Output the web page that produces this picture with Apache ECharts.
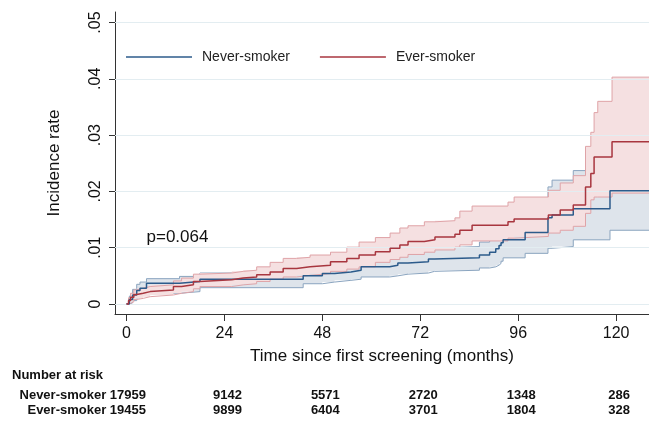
<!DOCTYPE html>
<html><head><meta charset="utf-8">
<script src="https://cdn.jsdelivr.net/npm/echarts@6/dist/echarts.min.js"></script>
<style>html,body{margin:0;padding:0;background:#fff}#c{width:649px;height:422px}</style>
</head><body><div id="c"></div>
<script>
// ---------- data ----------
const neverT   = [0, 0.7, 1.5, 2.5, 3.3, 4.9, 13, 18, 43.3, 48, 51, 55, 57.5, 64.5, 66.5, 69, 74, 75.5, 86.5, 89, 90.5, 91.3, 91.8, 92.3, 97.7, 103.3, 104.3, 109.5, 118.5, 130];
const neverEst = [0, .0008, .0016, .0024, .0028, .0037, .004, .0044, .005, .0054, .0057, .006, .0066, .0069, .0073, .0075, .008, .0082, .0087, .0092, .0098, .0104, .0109, .0114, .0127, .0153, .0158, .0169, .0201, .0201];
const neverLo  = [0, .0002, .0006, .0011, .0015, .0019, .0022, .0029, .0036, .0039, .0042, .0044, .0048, .005, .0053, .0055, .0058, .006, .0064, .0066, .0069, .0072, .0076, .0082, .009, .0099, .0102, .0114, .0131, .0131];
const neverHi  = [0, .0014, .0026, .0035, .0039, .0045, .0049, .0055, .0062, .0066, .007, .0074, .0082, .0086, .0091, .0094, .0099, .0102, .011, .0116, .0122, .0128, .0134, .014, .0168, .0208, .022, .0237, .031, .031];

const everT   = [0, 0.5, 1, 1.8, 2.5, 4.1, 5.8, 11.5, 13.5, 16.4, 18, 25.8, 28.6, 31.9, 35.2, 38.4, 41.7, 45, 50, 54, 57, 61, 64.6, 67, 69, 73, 75.6, 80.5, 81.7, 84.7, 93.5, 95, 103.4, 106.3, 109.5, 112.5, 113.8, 114.6, 115.5, 119, 130];
const everEst = [0, .0006, .0012, .0017, .0019, .0022, .0025, .0031, .0034, .004, .0043, .0046, .0048, .0052, .0057, .0063, .0066, .0069, .0075, .0081, .0087, .0093, .0099, .0105, .0111, .0114, .0119, .0124, .0131, .014, .0146, .0151, .0158, .0167, .0176, .0208, .0232, .0261, .0261, .0288, .0288];
const everLo  = [0, .0001, .0004, .0008, .001, .0013, .0016, .0019, .0022, .0027, .0031, .0034, .0036, .004, .0044, .0048, .0051, .0054, .0058, .0062, .0066, .0074, .0079, .0083, .0088, .0092, .0096, .0101, .0105, .0112, .0117, .012, .0126, .0131, .0138, .0161, .0185, .019, .019, .0197, .0197];
const everHi  = [0, .0011, .0019, .0025, .0028, .0031, .0034, .0041, .0046, .0053, .0055, .0058, .006, .0066, .0074, .0081, .0083, .0087, .0092, .0101, .011, .0118, .0126, .0135, .0139, .0146, .0148, .0153, .0165, .0174, .0181, .019, .0202, .0215, .0228, .028, .0305, .034, .036, .0403, .0403];

const xTicks = [0, 24, 48, 72, 96, 120];
const yTicks = [0, 0.01, 0.02, 0.03, 0.04, 0.05];
const yTickLabels = ['0', '.01', '.02', '.03', '.04', '.05'];

const groupNames = ['Never-smoker', 'Ever-smoker'];
const riskTimes = [24, 48, 72, 96, 120];
const neverTotal = 17959;
const everTotal = 19455;
const neverRisk = [9142, 5571, 2720, 1348, 286];
const everRisk  = [9899, 6404, 3701, 1804, 328];
const pText = 'p=0.064';

// ---------- chart ----------
const F = '"Liberation Sans", Arial, sans-serif';
const chart = echarts.init(document.getElementById('c'), null, {renderer: 'canvas'});
const pairs = (t, v) => t.map((x, i) => [x, v[i]]);

const blueLine = '#2c5b8b', redLine = '#a8363f';
const blueEdge = '#8aa4bf', redEdge = '#dfa3a7';
const blueFill = '#dee4eb', redFill = '#f5e0e1';

function band(t, lo, hi, fill, z) {
  return {
    type: 'custom', z: z, silent: true,
    data: t.map((x, i) => [x, lo[i], hi[i]]),
    encode: {x: 0, y: [1, 2]},
    renderItem: function (params, api) {
      if (params.dataIndex !== 0) return null;
      const cs = params.coordSys, xmax = cs.x + cs.width;
      const top = [], bot = [];
      for (let i = 0; i < t.length; i++) {
        const x0 = Math.min(api.coord([t[i], 0])[0], xmax);
        const x1 = i + 1 < t.length ? Math.min(api.coord([t[i + 1], 0])[0], xmax) : x0;
        const yh = api.coord([0, hi[i]])[1], yl = api.coord([0, lo[i]])[1];
        top.push([x0, yh], [x1, yh]);
        bot.push([x0, yl], [x1, yl]);
      }
      return {type: 'polygon', shape: {points: top.concat(bot.reverse())}, style: {fill: fill, stroke: null}};
    }
  };
}
const stepLine = (name, t, v, color, w, z) => ({
  name: name, type: 'line', step: 'end', symbol: 'none', z: z, silent: true, color: color,
  data: pairs(t, v), lineStyle: {color: color, width: w}
});

chart.setOption({
  animation: false,
  backgroundColor: '#fff',
  grid: {left: 115, right: 0, top: 12, bottom: 108, containLabel: false},
  legend: {
    data: groupNames, left: 126, top: 50, padding: 0,
    icon: 'rect', itemWidth: 66, itemHeight: 1.6, itemGap: 30,
    textStyle: {fontFamily: F, fontSize: 14, color: '#222', padding: [0, 0, 0, 5]}
  },
  xAxis: {
    type: 'value', min: -2.82, max: 128.06,
    axisLine: {show: true, onZero: false, lineStyle: {color: '#333', width: 1}},
    axisTick: {show: true, customValues: xTicks, length: 7, lineStyle: {color: '#333'}},
    axisLabel: {customValues: xTicks, fontFamily: F, fontSize: 16, color: '#111', margin: 12},
    splitLine: {show: false},
    name: 'Time since first screening (months)', nameLocation: 'middle', nameGap: 34,
    nameTextStyle: {fontFamily: F, fontSize: 17, color: '#111'}
  },
  yAxis: {
    type: 'value', min: -0.001776, max: 0.05187,
    axisLine: {show: true, onZero: false, lineStyle: {color: '#333', width: 1}},
    axisTick: {show: true, customValues: yTicks, length: 6, lineStyle: {color: '#333'}},
    axisLabel: {customValues: yTicks, rotate: 90, fontFamily: F, fontSize: 16, color: '#111', margin: 11,
      formatter: v => { const i = yTicks.findIndex(y => Math.abs(y - v) < 1e-9); return i >= 0 ? yTickLabels[i] : ''; }},
    splitLine: {show: false},
    name: 'Incidence rate', nameLocation: 'middle', nameGap: 52,
    nameTextStyle: {fontFamily: F, fontSize: 17, color: '#111'}
  },
  series: [
    {name: 'grid', type: 'line', data: [], z: 0, silent: true,
     markLine: {silent: true, symbol: 'none', label: {show: false}, animation: false,
       lineStyle: {color: '#e3edf1', width: 1, type: 'solid'}, data: yTicks.map(v => ({yAxis: v}))}},
    band(neverT, neverLo, neverHi, blueFill, 1),
    stepLine('nLo', neverT, neverLo, blueEdge, 1, 2),
    stepLine('nHi', neverT, neverHi, blueEdge, 1, 2),
    band(everT, everLo, everHi, redFill, 3),
    stepLine('eLo', everT, everLo, redEdge, 1, 4),
    stepLine('eHi', everT, everHi, redEdge, 1, 4),
    stepLine(groupNames[0], neverT, neverEst, blueLine, 1.5, 5),
    stepLine(groupNames[1], everT, everEst, redLine, 1.5, 5)
  ]
});

// text annotations & number-at-risk table, positioned from the axis scale
const tx = t => chart.convertToPixel({xAxisIndex: 0}, t);
const ty = v => chart.convertToPixel({yAxisIndex: 0}, v);
const tfont = {fontFamily: F, fontSize: 13, fontWeight: 'bold', fill: '#111'};
const g = [];
g.push({type: 'text', left: tx(0) + 20, top: ty(0.012) - 8,
  style: {text: pText, fontFamily: F, fontSize: 17, fill: '#111'}});
g.push({type: 'text', x: 12, y: 375, style: Object.assign({text: 'Number at risk', textVerticalAlign: 'middle'}, tfont)});
g.push({type: 'text', x: 146, y: 395, style: Object.assign({text: groupNames[0] + ' ' + neverTotal, textAlign: 'right', textVerticalAlign: 'middle'}, tfont)});
g.push({type: 'text', x: 146, y: 410, style: Object.assign({text: groupNames[1] + ' ' + everTotal, textAlign: 'right', textVerticalAlign: 'middle'}, tfont)});
riskTimes.forEach((t, i) => {
  g.push({type: 'text', x: tx(t) + 3, y: 395, style: Object.assign({text: String(neverRisk[i]), textAlign: 'center', textVerticalAlign: 'middle'}, tfont)});
  g.push({type: 'text', x: tx(t) + 3, y: 410, style: Object.assign({text: String(everRisk[i]), textAlign: 'center', textVerticalAlign: 'middle'}, tfont)});
});
chart.setOption({graphic: g});
</script></body></html>
